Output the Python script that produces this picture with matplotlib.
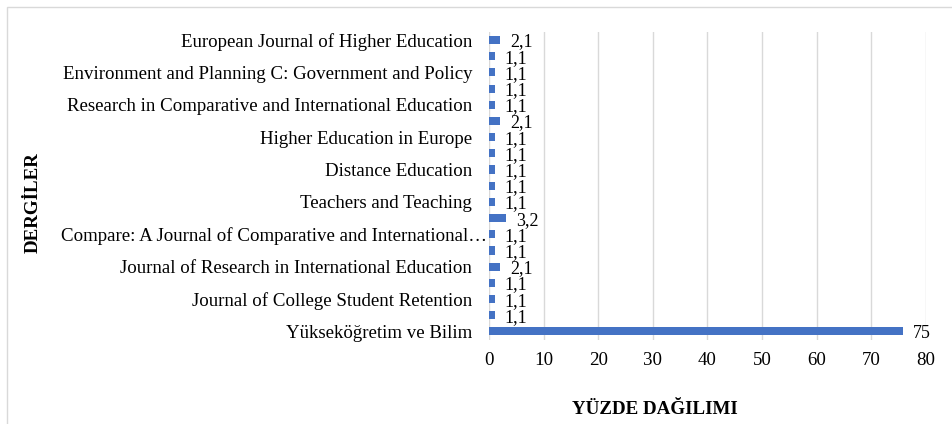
import matplotlib
matplotlib.use("Agg")
import matplotlib.pyplot as plt
import matplotlib.transforms as mtransforms
from matplotlib.patches import Rectangle

# Categories from bottom to top (every other label is hidden in the reference)
categories = [
    "Yükseköğretim ve Bilim", "",
    "Journal of College Student Retention", "",
    "Journal of Research in International Education", "",
    "Compare: A Journal of Comparative and International…", "",
    "Teachers and Teaching", "",
    "Distance Education", "",
    "Higher Education in Europe", "",
    "Research in Comparative and International Education", "",
    "Environment and Planning C: Government and Policy", "",
    "European Journal of Higher Education",
]
values = [75.9, 1.1, 1.1, 1.1, 2.1, 1.1, 1.1, 3.2, 1.1, 1.1,
          1.1, 1.1, 1.1, 2.1, 1.1, 1.1, 1.1, 1.1, 2.1]
value_labels = ["75", "1,1", "1,1", "1,1", "2,1", "1,1", "1,1", "3,2", "1,1", "1,1",
                "1,1", "1,1", "1,1", "2,1", "1,1", "1,1", "1,1", "1,1", "2,1"]
xticks = [0, 10, 20, 30, 40, 50, 60, 70, 80]

plt.rcParams['font.family'] = ['Liberation Serif', 'DejaVu Serif']

W, H = 952, 424
fig = plt.figure(figsize=(W / 100, H / 100), dpi=100)
fig.patch.set_facecolor('white')

# chart border
fig.patches.append(Rectangle((7 / W, -0.1), 1.2, 1.1 - 7 / H, transform=fig.transFigure,
                             fill=False, edgecolor='#D9D9D9', linewidth=1.0))

ax = fig.add_axes([489 / W, 1 - 339.5 / H, 436.7 / W, 307.6 / H])
ypos = list(range(len(categories)))
ax.barh(ypos, values, height=0.5, color='#4472C4', zorder=3)

for y, v, lab in zip(ypos, values, value_labels):
    ax.annotate(lab, xy=(v, y), xytext=(7, -1.5), textcoords='offset points',
                ha='left', va='center', fontsize=13, color='#000000')

ax.set_xlim(0, 80)
ax.set_ylim(-0.5, len(categories) - 0.5)
ax.set_xticks(xticks)
ax.set_xticklabels([str(t) for t in xticks], fontsize=13.6)
ax.set_yticks(ypos)
ax.set_yticklabels(categories, fontsize=13.6)
ax.tick_params(axis='x', length=0, pad=9)
ax.tick_params(axis='y', length=0, pad=12)
ax.grid(axis='x', color='#D9D9D9', linewidth=1.0, zorder=0)
for s in ax.spines.values():
    s.set_visible(False)

# the truncated label in the reference runs up to the axis
for lbl in ax.get_yticklabels():
    if lbl.get_text().endswith("…"):
        lbl.set_transform(lbl.get_transform() +
                          mtransforms.ScaledTranslation(15 / 100, 0, fig.dpi_scale_trans))

fig.text(655 / W, 1 - 410 / H, "YÜZDE DAĞILIMI", ha='center', va='center',
         fontsize=13.7, fontweight='bold')
fig.text(33 / W, 1 - 203 / H, "DERGİLER", ha='center', va='center',
         fontsize=13.7, fontweight='bold', rotation=90)

fig.savefig("out.png", dpi=100, facecolor='white')
